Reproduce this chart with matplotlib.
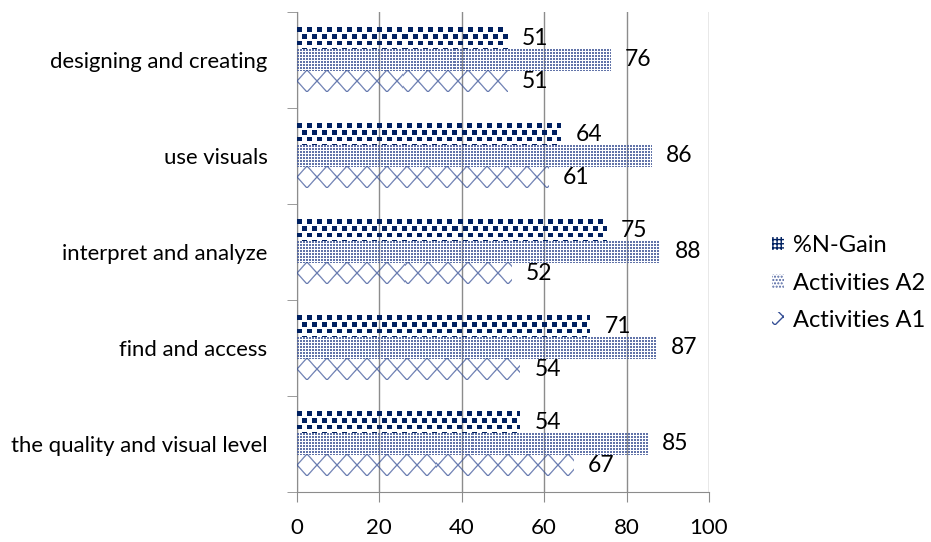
import matplotlib
matplotlib.use('Agg')
import matplotlib.pyplot as plt
import numpy as np
from matplotlib.patches import Patch

categories = ['the quality and visual level', 'find and access',
              'interpret and analyze', 'use visuals', 'designing and creating']
n_gain = [54, 71, 75, 64, 51]
act_a2 = [85, 87, 88, 86, 76]
act_a1 = [67, 54, 52, 61, 51]
x_ticks = [0, 20, 40, 60, 80, 100]
series_names = ['%N-Gain', 'Activities A2', 'Activities A1']

plt.rcParams['font.family'] = ['Lato', 'DejaVu Sans']

navy = np.array([0, 32, 96]) / 255.
dot_col = np.array([80, 100, 160]) / 255.
line_col = np.array([55, 80, 150]) / 255.
grey = '#8c8c8c'


def rgba(col, alpha):
    out = np.zeros(alpha.shape + (4,))
    out[..., :3] = col
    out[..., 3] = alpha
    return out


# large checkerboard fill
def checker_tex(w, h):
    yy, xx = np.mgrid[0:h, 0:w].astype(float)
    row = np.floor(yy / 6.7).astype(int)
    shift = (row % 2) * 5
    on = (np.mod(xx - shift, 10) < 5) & (np.mod(yy, 6.7) < 4.5)
    return rgba(navy, on.astype(float))


# fine dotted fill
def dots_tex(w, h):
    yy, xx = np.mgrid[0:h, 0:w]
    on = (xx % 3 != 2) & (yy % 3 != 2)
    return rgba(dot_col, on * 0.9)


# diamond lattice fill
def diamond_tex(w, h, p=20.0):
    yy, xx = np.mgrid[0:h, 0:w].astype(float) + 0.5
    t = (yy - h / 2.0) * p / h
    d = []
    for s in (1, -1):
        m = np.mod(xx + s * t, p)
        d.append(np.minimum(m, p - m))
    dist = np.minimum(d[0], d[1]) * 0.71
    alpha = np.clip(1.1 - dist, 0, 1) * 0.75
    return rgba(line_col, alpha)


fig = plt.figure(figsize=(9.31, 5.42), dpi=100)
ax = fig.add_axes([296.7 / 931, 1 - 492 / 542, (709 - 296.7) / 931, (492 - 12) / 542])

y = np.arange(len(categories))
h = 0.224
b_ng = ax.barh(y + h, n_gain, height=h, color='none', lw=0)
b_a2 = ax.barh(y, act_a2, height=h, color='none', lw=0)
b_a1 = ax.barh(y - h, act_a1, height=h, color='none', lw=0)

ax.set_xlim(0, 100)
ax.set_ylim(-0.5, len(categories) - 0.5)

for bars, tex in [(b_ng, checker_tex), (b_a2, dots_tex), (b_a1, diamond_tex)]:
    for p in bars:
        bb = p.get_window_extent()
        img = tex(int(round(bb.width)), int(round(bb.height)))
        ax.imshow(img, extent=(p.get_x(), p.get_x() + p.get_width(),
                               p.get_y(), p.get_y() + p.get_height()),
                  aspect='auto', interpolation='nearest', origin='upper', zorder=3)
        ax.annotate(str(int(p.get_width())), xy=(p.get_width(), p.get_y() + p.get_height() / 2),
                    xytext=(15, 0), textcoords='offset pixels',
                    ha='left', va='center', fontsize=16.5, zorder=4)

ax.set_xlim(0, 100)
ax.set_ylim(-0.5, len(categories) - 0.5)

# axes styling
for s in ['top', 'right']:
    ax.spines[s].set_visible(False)
for s in ['left', 'bottom']:
    ax.spines[s].set_color(grey)
ax.set_xticks(x_ticks)
ax.tick_params(axis='x', length=7, color=grey, labelsize=16, pad=12)
ax.set_yticks(y)
ax.set_yticklabels(categories)
ax.set_yticks(np.arange(-0.5, len(categories)), minor=True)
ax.tick_params(axis='y', which='major', length=0, labelsize=15.9, pad=21)
ax.tick_params(axis='y', which='minor', length=7, color=grey)
ax.grid(axis='x', color=grey, lw=1)
ax.set_axisbelow(True)

handles = [Patch(facecolor='white', edgecolor=navy, hatch='++++', lw=0),
           Patch(facecolor='white', edgecolor=dot_col, hatch='.....', lw=0),
           Patch(facecolor='white', edgecolor=line_col, hatch='xx', lw=0)]
fig.legend(handles, series_names, loc='center left', bbox_to_anchor=(772 / 931, 1 - 283 / 542),
           frameon=False, fontsize=17, handlelength=0.5, handleheight=0.5,
           handletextpad=0.4, labelspacing=0.7, borderaxespad=0, borderpad=0)

fig.savefig('out.png', dpi=100)
